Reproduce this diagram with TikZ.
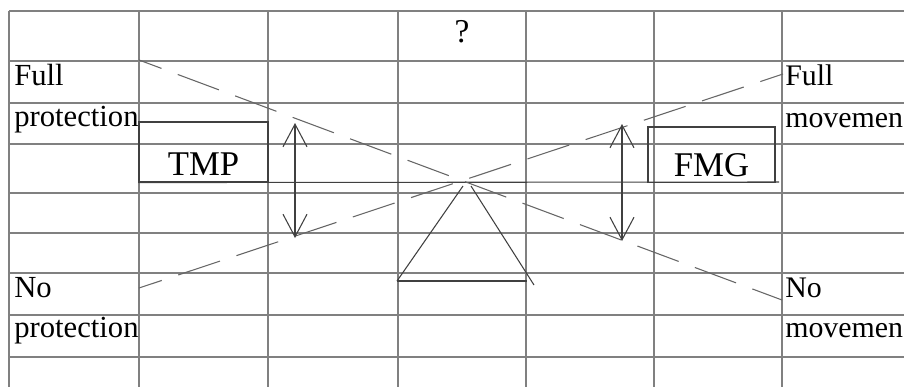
\documentclass[tikz,border=0pt]{standalone}
\usepackage{fontspec}
\setmainfont{Liberation Serif}
\usetikzlibrary{arrows.meta}
\tikzset{
  >={Straight Barb[length=17pt,width=18pt]},
  grid line/.style={draw=black!50, line width=1pt},
  cell/.style={anchor=base west, inner sep=0pt, font=\fontsize{23}{27}\selectfont},
  right cell/.style={cell, font=\fontsize{22.4}{27}\selectfont},
  beam/.style={draw=black!75, line width=0.8pt},
  guide/.style={draw=black!60, line width=0.8pt, dash pattern=on 33pt off 13pt, dash phase=15pt},
  weight/.style={draw=black!75, line width=0.8pt, inner sep=0pt, anchor=base, font=\fontsize{26}{30}\selectfont},
}

\begin{document}
\begin{tikzpicture}[x=0.75pt, y=-0.75pt]
  \useasboundingbox (0,0) rectangle (904,387);
  % spreadsheet grid
  \foreach \gx in {9,139,268,398,526,654,782}
    \draw[grid line] (\gx,11) -- (\gx,387);
  \foreach \gy in {11,61,103,144,193,233,273,315,357}
    \draw[grid line] (9,\gy) -- (904,\gy);

  % cell texts
  \node[cell] (fullA) at (14,85)  {Full};
  \node[cell] (protA) at (14,126) {protection};
  \node[cell] (noA)   at (14,297) {No};
  \node[cell] (protB) at (14,337) {protection};
  \node[right cell] (fullB) at (785,85)  {Full};
  \node[right cell] (movA)  at (785,127) {movemen};
  \node[right cell] (noB)   at (785,297) {No};
  \node[right cell] (movB)  at (785,337) {movemen};
  \node[cell, anchor=base, font=\fontsize{25}{29}\selectfont] (quest) at (462,42) {?};

  % the two weights on the beam
  \node[weight, minimum width=96.75pt, text height=39.75pt, text depth=5.25pt] (tmp) at (203.5,175) {TMP};
  \node[weight, minimum width=95.25pt, text height=36.75pt, text depth=4.9pt] (fmg) at (711.5,176) {FMG};

  \coordinate (beamR)   at (779,182);
  \coordinate (apexL)   at (463,186);
  \coordinate (apexR)   at (471,186);
  \coordinate (footL)   at (397,281);
  \coordinate (footR)   at (534,285);
  \coordinate (baseR)   at (527,281);
  \coordinate (fpA)     at (139,60);
  \coordinate (nmB)     at (782,300);
  \coordinate (npA)     at (139,288);
  \coordinate (fmB)     at (783,74);
  \coordinate (tmpUp)   at (295,123);
  \coordinate (tmpDown) at (295,238);
  \coordinate (fmgUp)   at (622,124);
  \coordinate (fmgDown) at (622,241);

  \draw[beam] (tmp.south west) -- (beamR);
  \draw[beam] (footL) -- (apexL);
  \draw[beam] (apexR) -- (footR);
  \draw[beam] (footL) -- (baseR);

  \draw[guide] (fpA) -- (nmB);
  \draw[guide] (npA) -- (fmB);

  \draw[beam, <->] (tmpUp) -- (tmpDown);
  \draw[beam, <->] (fmgUp) -- (fmgDown);
\end{tikzpicture}
\end{document}
